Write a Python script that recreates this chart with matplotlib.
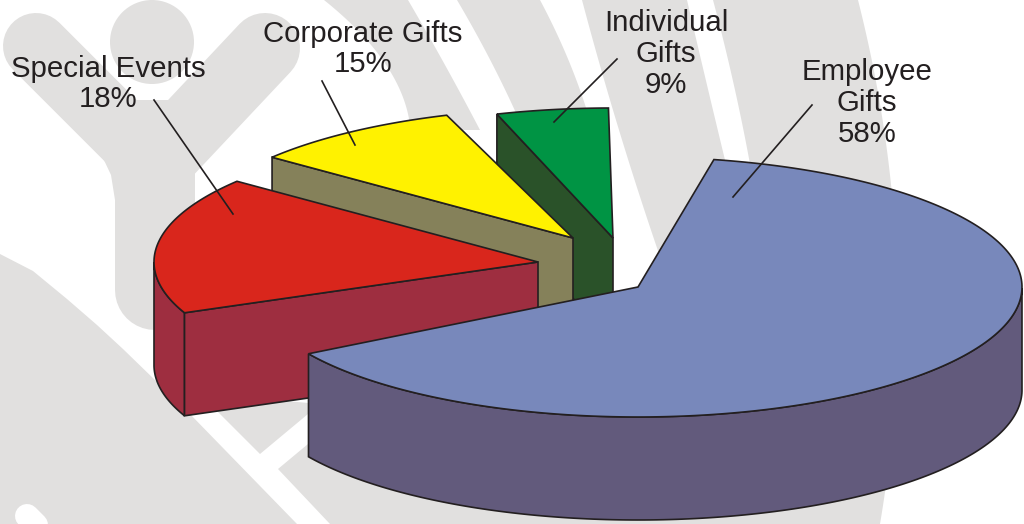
import numpy as np
import matplotlib
matplotlib.use("Agg")
import matplotlib.pyplot as plt
from matplotlib.patches import Polygon, Circle

# labels printed on the chart
names = ["Employee\nGifts", "Special Events", "Corporate Gifts", "Individual\nGifts"]
shares = [58, 18, 15, 9]
# slice sizes as actually drawn in the picture (not the same as the labels)
drawn_pct = [63.25, 17.05, 9.0, 4.7]

# layout of the exploded pie, in pixels
start_deg = [78.6, 203.0, 141.6, 107.6]
apex = [(638, 287), (538, 262), (573, 238), (613, 238)]
rx, ry, depth = 384, 130, 103
top_colors = ["#7888BB", "#D9261C", "#FFF200", "#009444"]
side_colors = ["#625A7C", "#9E2E40", "#85815A", "#2A5229"]
label_pos = [(867, 103), (108, 84), (363, 49), (666, 54)]
leaders = [((812, 105), (733, 197)), ((154, 100), (233, 214)),
           ((322, 81), (355, 145)), ((617, 59), (554, 122))]

GRAY = "#E1E0DF"
INK = "#231F20"

plt.rcParams["font.family"] = ["Liberation Sans", "DejaVu Sans"]

fig = plt.figure(figsize=(10.24, 5.24), dpi=100)
ax = fig.add_axes([0, 0, 1, 1])
ax.set_xlim(0, 1024)
ax.set_ylim(524, 0)
ax.axis("off")


def px(w):
    return w * 72 / fig.dpi


def edge(points, yy):
    # smooth watermark edge through a few points
    xs = [p[0] for p in points]
    ys = [p[1] for p in points]
    return np.polyval(np.polyfit(ys, xs, 2), yy)


def band(left, right, y_end):
    yy = np.linspace(0, y_end, 60)
    pts = list(zip(edge(left, yy), yy)) + list(zip(edge(right, yy), yy))[::-1]
    ax.add_patch(Polygon(pts, closed=True, fc=GRAY, ec="none", zorder=1))


# watermark arcs
band([(324, 0), (345, 18), (400, 90)], [(408, 0), (445, 65), (480, 130)], 130)
band([(457, 0), (485, 50), (510, 100)], [(540, 0), (562, 45), (580, 90)], 200)
band([(582, 0), (610, 100), (633, 175)], [(687, 0), (707, 85), (725, 160)], 300)
band([(713, 0), (735, 90), (752, 175)], [(858, 0), (890, 175), (880, 524)], 524)

# watermark figure top left
ax.plot([36, 155], [46, 165], color=GRAY, lw=px(66), solid_capstyle="round", zorder=1)
ax.plot([265, 155], [48, 165], color=GRAY, lw=px(70), solid_capstyle="round", zorder=1)
ax.plot([155, 155], [150, 290], color=GRAY, lw=px(80), solid_capstyle="round", zorder=1)
ax.add_patch(Polygon([(132, 100), (172, 100), (152, 120)], fc=GRAY, ec="none", zorder=1))
ax.add_patch(Polygon([(90, 143), (103, 158), (111, 175), (115, 200), (130, 150)],
                     fc=GRAY, ec="none", zorder=1))
ax.add_patch(Circle((152, 42), 42, fc=GRAY, ec="none", zorder=1))

# watermark pieces at the bottom
ax.add_patch(Polygon([(0, 254), (33, 271), (67, 299), (97, 325), (123, 349), (189, 413),
                      (297, 524), (0, 524)], fc=GRAY, ec="none", zorder=1))
ax.plot([27, 60], [516, 549], color="white", lw=px(24), solid_capstyle="round", zorder=1)
ax.add_patch(Polygon([(218, 412), (260, 454), (320, 404), (218, 395)], fc=GRAY, ec="none", zorder=1))
ax.add_patch(Polygon([(278, 469), (308, 444), (400, 400), (800, 400), (880, 524), (330, 524)],
                     fc=GRAY, ec="none", zorder=1))

# slices, back to front
for i in [3, 2, 1, 0]:
    cx, cy = apex[i]
    t = np.radians(np.linspace(start_deg[i], start_deg[i] - drawn_pct[i] * 3.6, 240))
    x = cx + rx * np.cos(t)
    y = cy - ry * np.sin(t)
    # outer rim wall
    low = np.sin(t) <= 0
    if low.any():
        pts = list(zip(x[low], y[low])) + list(zip(x[low], y[low] + depth))[::-1]
        ax.add_patch(Polygon(pts, fc=side_colors[i], ec=INK, lw=1.2, zorder=6 - i))
    # radial wall facing the viewer
    if np.cos(t[0]) < 0:
        pts = [(x[0], y[0]), (cx, cy), (cx, cy + depth), (x[0], y[0] + depth)]
        ax.add_patch(Polygon(pts, fc=side_colors[i], ec=INK, lw=1.2, zorder=6 - i))
    pts = [(cx, cy)] + list(zip(x, y))
    ax.add_patch(Polygon(pts, fc=top_colors[i], ec=INK, lw=1.2, zorder=6 - i))

# labels
for i in range(len(names)):
    ax.text(label_pos[i][0], label_pos[i][1], "%s\n%d%%" % (names[i], shares[i]),
            ha="center", va="center", fontsize=21.2, color=INK, linespacing=1.13, zorder=10)
    a, b = leaders[i]
    ax.plot([a[0], b[0]], [a[1], b[1]], color=INK, lw=1.2, zorder=10)

fig.savefig("out.png", dpi=100)
